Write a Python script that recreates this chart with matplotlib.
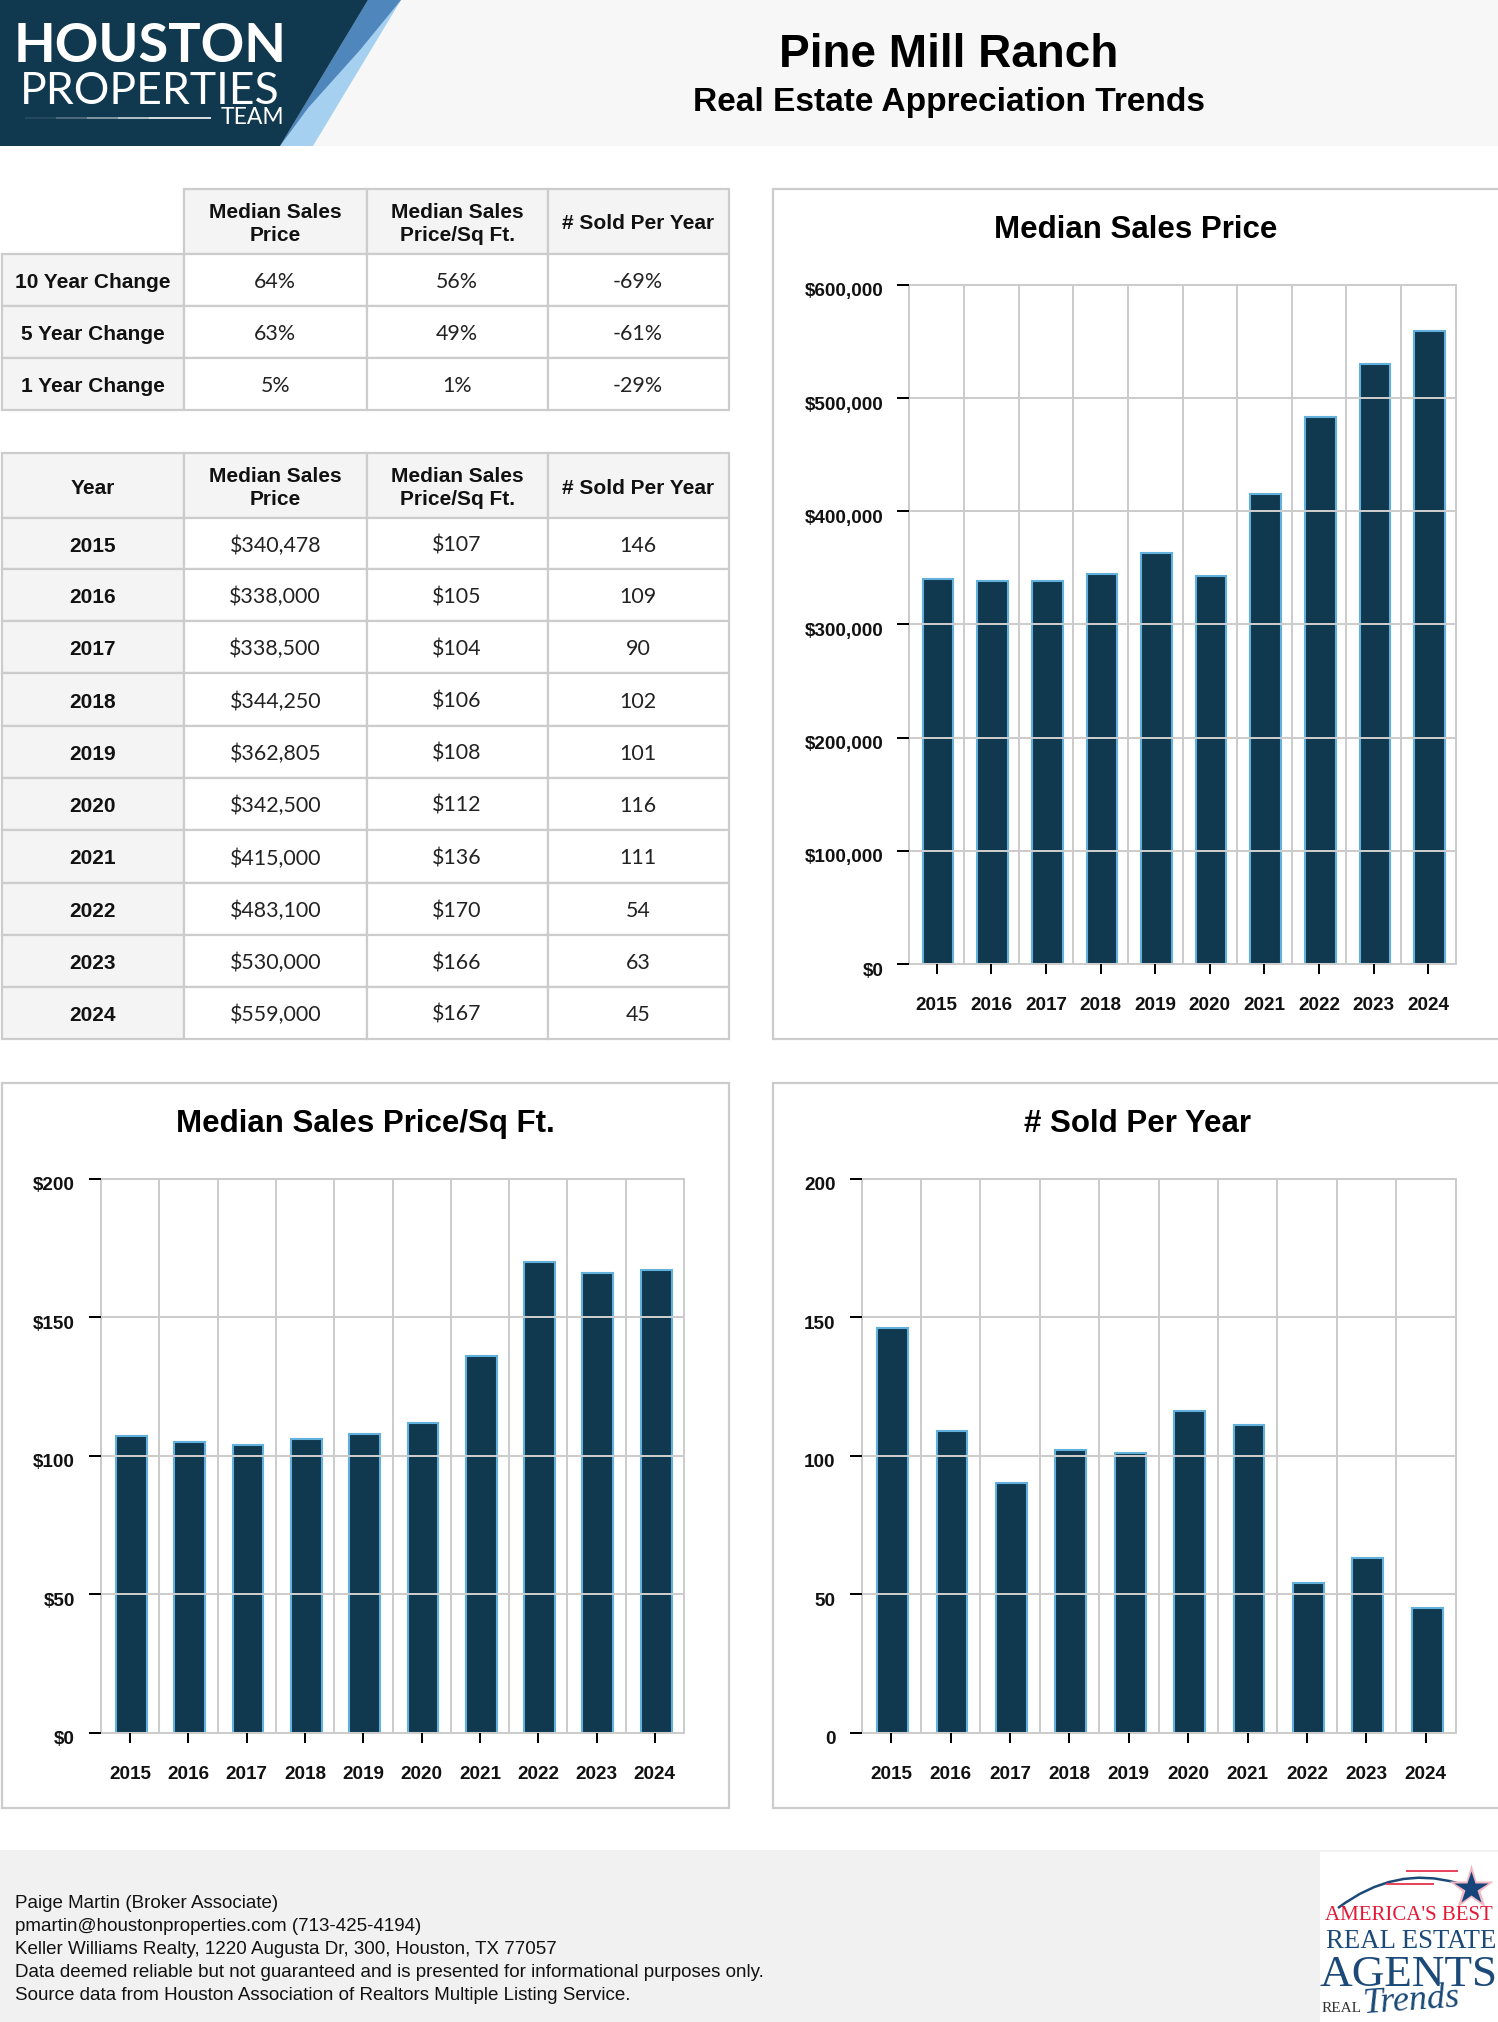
import matplotlib
matplotlib.use("Agg")
from matplotlib import pyplot as plt
from matplotlib.patches import Polygon, Rectangle, PathPatch
from matplotlib.path import Path
from matplotlib.transforms import ScaledTranslation

W, H = 1498, 2022

years = [2015, 2016, 2017, 2018, 2019, 2020, 2021, 2022, 2023, 2024]
price = [340478, 338000, 338500, 344250, 362805, 342500, 415000, 483100, 530000, 559000]
price_sqft = [107, 105, 104, 106, 108, 112, 136, 170, 166, 167]
sold = [146, 109, 90, 102, 101, 116, 111, 54, 63, 45]

col_names = ["Median Sales\nPrice", "Median Sales\nPrice/Sq Ft.", "# Sold Per Year"]
change_names = ["10 Year Change", "5 Year Change", "1 Year Change"]
change_price = ["64%", "63%", "5%"]
change_sqft = ["56%", "49%", "1%"]
change_sold = ["-69%", "-61%", "-29%"]

price_ticks = [0, 100000, 200000, 300000, 400000, 500000, 600000]
sqft_ticks = [0, 50, 100, 150, 200]
sold_ticks = [0, 50, 100, 150, 200]

footer_lines = [
    "Paige Martin (Broker Associate)",
    "pmartin@houstonproperties.com (713-425-4194)",
    "Keller Williams Realty, 1220 Augusta Dr, 300, Houston, TX 77057",
    "Data deemed reliable but not guaranteed and is presented for informational purposes only.",
    "Source data from Houston Association of Realtors Multiple Listing Service.",
]

NAVY = "#10384f"
EDGE = "#62b1dd"
LINE = "#cccccc"
CELL = "#f4f4f4"
SANS = "Liberation Sans"
SERIF = "Liberation Serif"

fig = plt.figure(figsize=(W / 100, H / 100), dpi=100, facecolor="white")

# everything that is not a chart goes on one axes in pixel coordinates
bg = fig.add_axes([0, 0, 1, 1])
bg.set_xlim(0, W)
bg.set_ylim(H, 0)
bg.axis("off")


def draw_table(xs, ys, rows, skip_corner=False):
    for r, row in enumerate(rows):
        for c, label in enumerate(row):
            if skip_corner and r == 0 and c == 0:
                continue
            is_head = r == 0 or c == 0
            bg.add_patch(Rectangle((xs[c], ys[r]), xs[c + 1] - xs[c], ys[r + 1] - ys[r],
                                   fc=CELL if is_head else "white", ec=LINE, lw=1.6))
            cx = (xs[c] + xs[c + 1]) / 2
            cy = (ys[r] + ys[r + 1]) / 2
            if is_head:
                bg.text(cx, cy + 2.5, label, ha="center", va="center", family=SANS, weight="bold",
                        fontsize=15, linespacing=1.27, color="#111111")
            else:
                bg.text(cx, cy + 2, label, ha="center", va="center", family="Lato",
                        fontsize=15.4, color="#222222")


# header band and logo
bg.add_patch(Rectangle((0, 0), W, 146, fc="#f7f7f7", ec="none"))
bg.add_patch(Polygon([(401, 0), (313, 146), (280, 146), (368, 0)], fc="#a5d0f0", ec="none"))
bg.add_patch(Polygon([(368, 0), (401, 0), (360, 50), (308, 108), (283, 142), (280, 146)],
                     fc="#4f86bb", ec="none"))
bg.add_patch(Polygon([(0, 0), (368, 0), (280, 146), (0, 146)], fc=NAVY, ec="none"))
bg.text(150, 46, "HOUSTON", ha="center", va="center", family="Lato", weight="bold",
        fontsize=39, color="white")
bg.text(150, 91, "PROPERTIES", ha="center", va="center", family="Lato",
        fontsize=32, color="white")
bg.text(284, 118, "TEAM", ha="right", va="center", family="Lato", fontsize=16.5, color="white")
for i, a in enumerate([0.1, 0.3, 0.55, 0.8, 1.0, 1.0]):
    bg.plot([25 + i * 31, 25 + (i + 1) * 31], [118, 118], color="white", alpha=a, lw=1.2,
            solid_capstyle="butt")

bg.text(949, 55, "Pine Mill Ranch", ha="center", va="center", family=SANS, weight="bold",
        fontsize=33, color="black")
bg.text(949, 102, "Real Estate Appreciation Trends", ha="center", va="center", family=SANS,
        weight="bold", fontsize=24.1, color="black")

# tables
table_x = [1.5, 184, 366.5, 547.5, 728.5]
change_rows = [[""] + col_names]
for i in range(3):
    change_rows.append([change_names[i], change_price[i], change_sqft[i], change_sold[i]])
draw_table(table_x, [189, 253.5, 306, 358, 409.5], change_rows, skip_corner=True)

year_rows = [["Year"] + col_names]
for i in range(len(years)):
    year_rows.append([str(years[i]), f"${price[i]:,}", f"${price_sqft[i]}", str(sold[i])])
draw_table(table_x, [453, 518, 569, 621, 673, 726, 778, 830, 883, 935, 987, 1038.5], year_rows)


def draw_chart(box, axes_box, title, title_x, values, ticks, tick_labels):
    bg.add_patch(Rectangle((box[0], box[1]), box[2] - box[0], box[3] - box[1],
                           fc="white", ec=LINE, lw=1.6))
    bg.text(title_x, box[1] + 41, title, ha="center", va="center", family=SANS, weight="bold",
            fontsize=22.5, color="black")

    left, top, right, bottom = axes_box
    ax = fig.add_axes([left / W, 1 - bottom / H, (right - left) / W, (bottom - top) / H])
    # bars are the same pixel width in all charts, and sit a bit right of the band centre
    band = (right - left) / len(years)
    xpos = [i + 1.3 / band for i in range(len(years))]
    ax.bar(xpos, values, width=30.8 / band, color=NAVY, edgecolor=EDGE, linewidth=1.5, zorder=2)
    ax.set_xlim(-0.5, len(years) - 0.5)
    ax.set_ylim(ticks[0], ticks[-1])

    ax.set_xticks(range(len(years)))
    ax.set_xticklabels(years, family=SANS, weight="bold", fontsize=13.6, color="#111111")
    ax.set_xticks([i + 0.5 for i in range(len(years) - 1)], minor=True)
    ax.set_yticks(ticks)
    ax.set_yticklabels(tick_labels, family=SANS, weight="bold", fontsize=13.6, color="#111111")

    ax.tick_params(axis="x", which="major", length=7, width=1.44, pad=17, color="black")
    ax.tick_params(axis="x", which="minor", length=0)
    ax.tick_params(axis="y", length=8.6, width=1.44, pad=10.2, color="black")
    ax.grid(True, axis="x", which="minor", color=LINE, lw=1.44)
    ax.grid(True, axis="y", which="major", color=LINE, lw=1.44)
    ax.set_axisbelow(False)  # the horizontal grid runs across the bars

    for s in ax.spines.values():
        s.set_color(LINE)
        s.set_linewidth(1.44)
    # labels sit a little under their ticks
    shift = ScaledTranslation(0, -5 / 100, fig.dpi_scale_trans)
    for lab in ax.get_yticklabels():
        lab.set_transform(lab.get_transform() + shift)
    return ax


draw_chart((772.5, 189, W + 5, 1039), (909.5, 285, 1455.5, 964), "Median Sales Price", 1135.5,
           price, price_ticks, [f"${v:,}" for v in price_ticks])
draw_chart((1.5, 1083, 728.5, 1807.5), (101, 1179, 684, 1732.5), "Median Sales Price/Sq Ft.", 365,
           price_sqft, sqft_ticks, [f"${v}" for v in sqft_ticks])
draw_chart((772.5, 1083, W + 5, 1807.5), (861.5, 1179, 1455.5, 1732.5), "# Sold Per Year", 1137.5,
           sold, sold_ticks, [str(v) for v in sold_ticks])

# footer
bg.add_patch(Rectangle((0, 1850), W, H - 1850, fc="#f1f1f1", ec="none"))
for i, line in enumerate(footer_lines):
    bg.text(15, 1903.5 + i * 23, line, ha="left", va="center", family=SANS, fontsize=13.5,
            color="#111111")

# awards logo
bg.add_patch(Rectangle((1320, 1852), W - 1320, H - 1852, fc="white", ec="none"))
bg.add_patch(PathPatch(Path([(1338, 1908), (1395, 1865), (1457, 1883)],
                            [Path.MOVETO, Path.CURVE3, Path.CURVE3]),
                       fc="none", ec="#1c4a78", lw=1.8))
bg.plot([1407, 1457], [1871, 1871], color="#e8405a", lw=1.4)
bg.plot([1387, 1433], [1884, 1884], color="#e8405a", lw=1.4)
bg.plot([1471], [1888], marker="*", ms=34, mfc="#f3b7c4", mec="none")
bg.plot([1471], [1888], marker="*", ms=25, mfc="#15457a", mec="none")
bg.text(1409, 1916, "AMERICA'S BEST", ha="center", va="center", family=SERIF, fontsize=15,
        color="#e31837")
bg.text(1411, 1941, "REAL ESTATE", ha="center", va="center", family=SERIF, fontsize=19.3,
        color="#1c4a78")
bg.text(1409, 1975, "AGENTS", ha="center", va="center", family=SERIF, fontsize=32.5,
        color="#1c4a78")
bg.text(1322, 2009, "REAL", ha="left", va="center", family=SERIF, fontsize=11, color="#333333")
bg.text(1362, 2001, "Trends", ha="left", va="center", family=SERIF, style="italic", fontsize=26,
        rotation=4, color="#1c4a78")

fig.savefig("out.png", dpi=100)
